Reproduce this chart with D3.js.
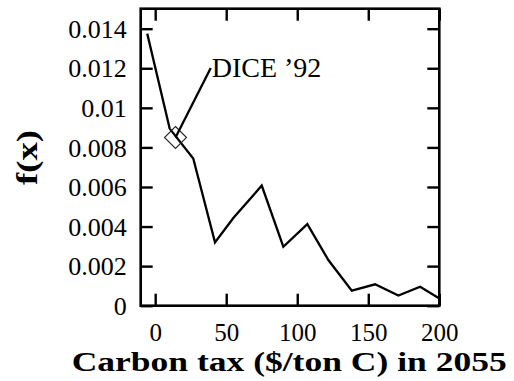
<!DOCTYPE html>
<html>
<head>
<meta charset="utf-8">
<script src="https://cdn.jsdelivr.net/npm/d3@7"></script>
<style>
  html, body { margin: 0; padding: 0; background: #fff; }
  svg { display: block; }
  text { font-family: "Liberation Serif", "Times New Roman", serif; fill: #000; }
</style>
</head>
<body>
<svg id="chart" width="514" height="381"></svg>
<script>
// Carbon tax levels ($/ton C) and the density f(x) at each
const taxLevels = [-5.6, 10.2, 26.8, 42.1, 55, 75, 90.2, 107.1, 121.9, 138.4, 154.8, 171.2, 186.5, 200.1];
const densityValues = [0.01375, 0.00895, 0.00744, 0.0032, 0.00443, 0.00607, 0.00298, 0.00412, 0.00231, 0.00076, 0.00108, 0.00051, 0.00096, 0.00036];

// DICE '92 reference point and the end of its label pointer
const diceLabel = "DICE \u201992";
const dicePoint = [14.3, 0.0085];
const diceLabelAnchor = [39.1, 0.01201];

// Axis ticks
const xTicks = [0, 50, 100, 150, 200];
const xTickLabels = ["0", "50", "100", "150", "200"];
const yTicks = [0, 0.002, 0.004, 0.006, 0.008, 0.01, 0.012, 0.014];
const yTickLabels = ["0", "0.002", "0.004", "0.006", "0.008", "0.01", "0.012", "0.014"];

const xTitle = "Carbon tax ($/ton C) in 2055";
const yTitle = "f(x)";

const svg = d3.select("#chart");
const plotLeft = 140.7, plotRight = 439.3, plotTop = 8.7, plotBottom = 305.7;

const x = d3.scaleLinear().domain([-10.2, 200]).range([plotLeft, plotRight]);
const y = d3.scaleLinear().domain([0, 0.015]).range([plotBottom, plotTop + 0.2]);

const tickLen = 12;
const xFmt = d => xTickLabels[xTicks.indexOf(d)];
const yFmt = d => yTickLabels[yTicks.indexOf(d)];

function styleAxis(g) {
  g.select(".domain").remove();
  g.selectAll(".tick line").attr("stroke", "#000").attr("stroke-width", 2.4);
}

// Left axis with labels, ticks pointing inward
svg.append("g")
  .attr("transform", `translate(${plotLeft},0)`)
  .call(d3.axisLeft(y).tickValues(yTicks).tickFormat(yFmt).tickSize(-tickLen).tickPadding(14))
  .call(styleAxis)
  .call(g => g.selectAll("text").attr("font-size", 26).attr("font-family", "Liberation Serif").attr("dy", "0.33em"));

// Right axis: mirrored ticks only
svg.append("g")
  .attr("transform", `translate(${plotRight},0)`)
  .call(d3.axisRight(y).tickValues(yTicks).tickFormat("").tickSize(-tickLen))
  .call(styleAxis);

// Bottom axis with labels
svg.append("g")
  .attr("transform", `translate(0,${plotBottom})`)
  .call(d3.axisBottom(x).tickValues(xTicks).tickFormat(xFmt).tickSize(-tickLen))
  .call(styleAxis)
  .call(g => g.selectAll("text").attr("font-size", 25).attr("font-family", "Liberation Serif").attr("y", 35).attr("dy", 0));

// Top axis: mirrored ticks only
svg.append("g")
  .attr("transform", `translate(0,${plotTop})`)
  .call(d3.axisTop(x).tickValues(xTicks).tickFormat("").tickSize(-tickLen))
  .call(styleAxis);

// Plot frame
svg.append("rect")
  .attr("x", plotLeft).attr("y", plotTop)
  .attr("width", plotRight - plotLeft).attr("height", plotBottom - plotTop)
  .attr("fill", "none").attr("stroke", "#000").attr("stroke-width", 2.6);

// Density curve
const pts = taxLevels.map((t, i) => [t, densityValues[i]]);
svg.append("path")
  .datum(pts)
  .attr("fill", "none")
  .attr("stroke", "#000")
  .attr("stroke-width", 2.3)
  .attr("stroke-linejoin", "miter")
  .attr("d", d3.line().x(d => x(d[0])).y(d => y(d[1])));

// DICE '92 marker
const mx = x(dicePoint[0]), my = y(dicePoint[1]), r = 11;
svg.append("path")
  .attr("d", `M${mx},${my - r}L${mx + r},${my}L${mx},${my + r}L${mx - r},${my}Z`)
  .attr("fill", "none").attr("stroke", "#222").attr("stroke-width", 1.1);

// Label pointer and text
svg.append("line")
  .attr("x1", x(diceLabelAnchor[0])).attr("y1", y(diceLabelAnchor[1]))
  .attr("x2", mx).attr("y2", my)
  .attr("stroke", "#000").attr("stroke-width", 2.3);

svg.append("text")
  .attr("x", x(diceLabelAnchor[0]) + 1).attr("y", 76.7)
  .attr("font-size", 28)
  .text(diceLabel);

// Axis titles
svg.append("text")
  .attr("x", 71.7).attr("y", 370.5)
  .attr("font-size", 28).attr("font-weight", "bold")
  .attr("textLength", 435).attr("lengthAdjust", "spacingAndGlyphs")
  .text(xTitle);

svg.append("text")
  .attr("transform", "translate(37,157.5) rotate(-90)")
  .attr("text-anchor", "middle")
  .attr("font-size", 30).attr("font-weight", "bold")
  .attr("textLength", 55).attr("lengthAdjust", "spacingAndGlyphs")
  .text(yTitle);
</script>
</body>
</html>
